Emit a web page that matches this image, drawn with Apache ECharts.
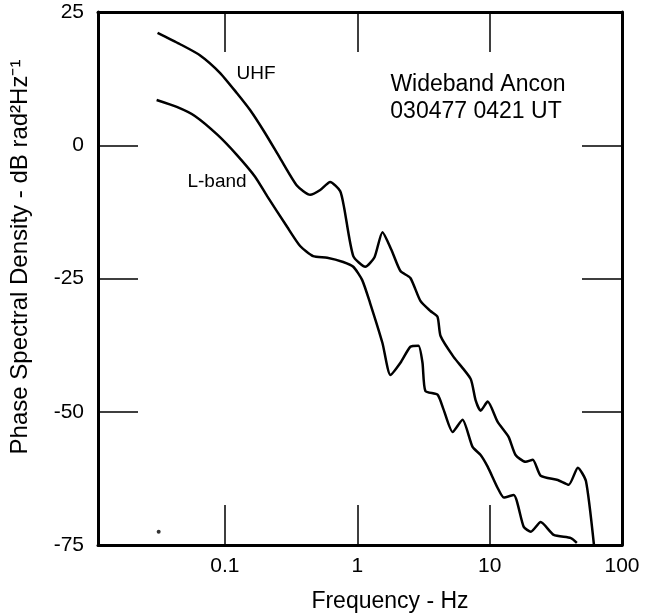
<!DOCTYPE html>
<html><head><meta charset="utf-8">
<script src="https://cdn.jsdelivr.net/npm/echarts@6/dist/echarts.min.js"></script>
<style>html,body{margin:0;padding:0;background:#fff}#c{width:645px;height:615px}</style>
</head><body><div id="c"></div>
<script>
// Frequency (Hz) and phase spectral density (dB rad^2 Hz^-1)
const uhfFreq = [0.031, 0.0456, 0.0647, 0.0917, 0.123, 0.155, 0.201, 0.261, 0.351, 0.441, 0.525, 0.624, 0.743, 0.797, 0.933, 1.15, 1.35, 1.55, 1.81, 2.12, 2.52, 3.00, 3.57, 4.04, 4.26, 5.34, 7.18, 7.83, 8.55, 9.66, 11.5, 13.9, 15.7, 18.7, 21.2, 24.3, 32.7, 39.6, 46.4, 53.4, 61.4];
const uhfPsd  = [21.1, 19.0, 16.9, 13.6, 9.8, 6.6, 2.3, -2.4, -7.6, -9.3, -8.4, -6.9, -8.6, -11.8, -20.8, -22.8, -21.0, -16.3, -19.6, -23.6, -24.9, -29.2, -31.1, -32.2, -35.8, -39.7, -43.8, -47.8, -49.8, -48.1, -51.9, -54.7, -58.1, -59.4, -59.0, -62.0, -62.8, -63.7, -60.5, -63.0, -75];
const lbandFreq = [0.0305, 0.0433, 0.0593, 0.0885, 0.123, 0.169, 0.208, 0.295, 0.370, 0.464, 0.593, 0.783, 0.933, 1.09, 1.25, 1.55, 1.78, 2.12, 2.52, 2.90, 3.11, 3.27, 4.04, 4.49, 5.25, 6.24, 7.43, 8.55, 9.66, 11.5, 12.8, 15.2, 18.1, 20.5, 24.3, 30.5, 41.1, 45.6];
const lbandPsd  = [8.5, 7.2, 5.5, 1.9, -1.8, -5.9, -9.5, -15.3, -18.9, -20.8, -21.1, -21.9, -22.8, -25.3, -29.6, -37.1, -43.1, -40.8, -37.8, -37.6, -40.8, -46.1, -46.8, -49.6, -53.8, -51.5, -56.6, -58.1, -60.3, -64.3, -66.1, -65.6, -71.6, -72.5, -70.7, -73.1, -73.7, -74.6];
const strayFreq = [0.0316];
const strayPsd  = [-72.5];
const yMin = -75, yMax = 25, yStep = 25;
const xMin = 0.011, xMax = 100;
const seriesLabels = ['UHF', 'L-band'];
const noteLines = ['Wideband Ancon', '030477 0421 UT'];
const xTitle = 'Frequency - Hz';
const yTitle = 'Phase Spectral Density - dB rad\u00b2Hz\u207b\u00b9';

const zip = (a, b) => a.map((v, i) => [v, b[i]]);
const FONT = '"Liberation Sans", Arial, Helvetica, sans-serif';
const axisLine = {show: true, onZero: false, lineStyle: {color: '#000', width: 3}};
const axisTick = {show: true, inside: true, length: 40, lineStyle: {color: '#000', width: 1.5}};

function xAx(pos, labels) {
  return {type: 'log', logBase: 10, min: xMin, max: xMax, position: pos,
    axisLine: axisLine, axisTick: axisTick, splitLine: {show: false}, minorTick: {show: false},
    axisLabel: {show: labels, showMinLabel: false, fontSize: 21, color: '#000', margin: 11, fontFamily: FONT}};
}
function yAx(pos, labels) {
  return {type: 'value', min: yMin, max: yMax, interval: yStep, position: pos,
    axisLine: axisLine, axisTick: axisTick, splitLine: {show: false},
    axisLabel: {show: labels, fontSize: 21, color: '#000', margin: 14, fontFamily: FONT}};
}
function txt(x, y, s, size, rot) {
  return {type: 'text', x: x, y: y, rotation: rot || 0, z: 10,
    style: {text: s, fill: '#000', font: size + 'px ' + FONT,
      align: 'center', verticalAlign: 'middle', textAlign: 'center', textVerticalAlign: 'middle'}};
}
const chart = echarts.init(document.getElementById('c'));
chart.setOption({
  backgroundColor: '#fff',
  animation: false,
  grid: {left: 98, top: 12, width: 524, height: 533},
  xAxis: [xAx('bottom', true), xAx('top', false)],
  yAxis: [yAx('left', true), yAx('right', false)],
  series: [
    {name: seriesLabels[0], type: 'line', data: zip(uhfFreq, uhfPsd), showSymbol: false, smooth: 0.2,
     lineStyle: {color: '#000', width: 2.5}, itemStyle: {color: '#000'}},
    {name: seriesLabels[1], type: 'line', data: zip(lbandFreq, lbandPsd), showSymbol: false, smooth: 0.2,
     lineStyle: {color: '#000', width: 2.5}, itemStyle: {color: '#000'}},
    {type: 'scatter', data: zip(strayFreq, strayPsd), symbolSize: 4, itemStyle: {color: '#000'}}
  ],
  graphic: [
    txt(256, 74, seriesLabels[0], 19),
    txt(217, 182, seriesLabels[1], 19),
    txt(478, 85, noteLines[0], 23),
    txt(476, 112, noteLines[1], 23),
    txt(390, 602, xTitle, 23),
    txt(20, 257, yTitle, 24, Math.PI / 2)
  ]
});
</script></body></html>
